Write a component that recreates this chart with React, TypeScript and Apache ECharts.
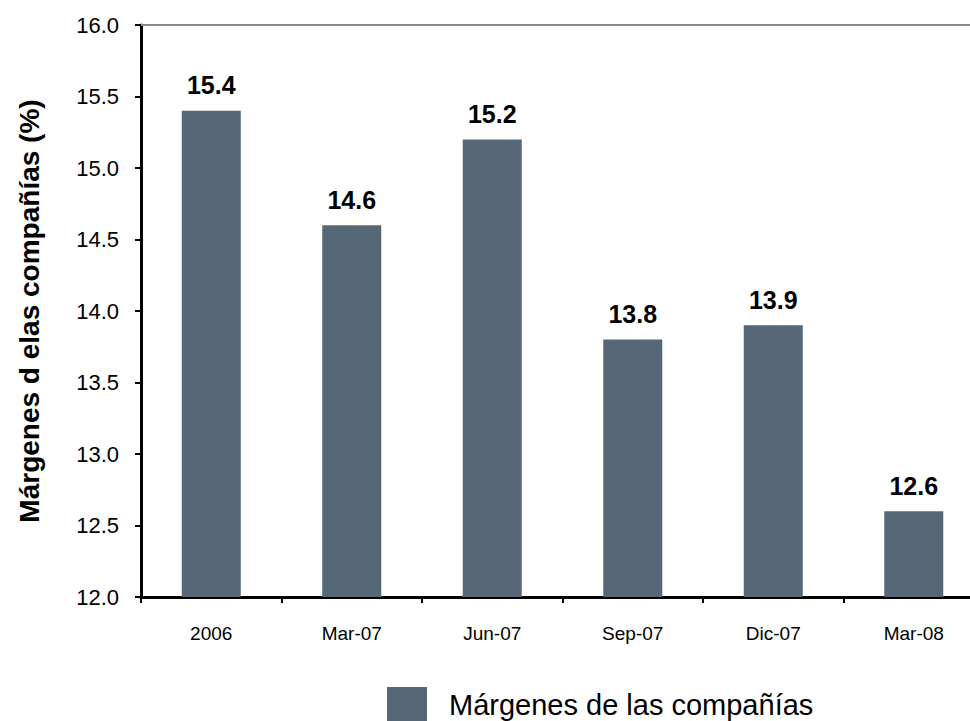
import React, { useEffect, useRef } from "react";
import * as echarts from "echarts";

const categories = ["2006", "Mar-07", "Jun-07", "Sep-07", "Dic-07", "Mar-08"];
const margins = [15.4, 14.6, 15.2, 13.8, 13.9, 12.6];
const seriesName = "Márgenes de las compañías";
const yTitle = "Márgenes d elas compañías (%)";

export default function App() {
  const ref = useRef<HTMLDivElement>(null);
  useEffect(() => {
    if (!ref.current) return;
    const chart = echarts.init(ref.current, null, { renderer: "svg" });
    const font = "'Liberation Sans', Arial, sans-serif";
    chart.setOption({
      animation: false,
      textStyle: { fontFamily: font },
      grid: { left: 141, right: 6, top: 25, bottom: 124, containLabel: false },
      legend: {
        data: [seriesName],
        left: 387,
        top: 685,
        padding: 0,
        itemWidth: 40,
        itemHeight: 35,
        itemGap: 10,
        icon: "rect",
        textStyle: {
          fontSize: 29,
          lineHeight: 29,
          color: "#000",
          fontFamily: font,
          padding: [0, 0, 10, 17],
        },
      },
      xAxis: [
        {
          type: "category",
          data: categories,
          position: "bottom",
          axisLine: { lineStyle: { color: "#000", width: 3 } },
          axisTick: { show: true, length: 6, lineStyle: { color: "#000", width: 2 } },
          axisLabel: { color: "#000", fontSize: 19, margin: 27, fontFamily: font },
          splitLine: { show: false },
        },
        {
          type: "category",
          data: categories,
          position: "top",
          axisLine: { lineStyle: { color: "#888", width: 2 } },
          axisTick: { show: false },
          axisLabel: { show: false },
        },
      ],
      yAxis: {
        type: "value",
        min: 12,
        max: 16,
        interval: 0.5,
        name: yTitle,
        nameLocation: "middle",
        nameGap: 98,
        nameTextStyle: { fontSize: 28, fontWeight: "bold", color: "#000", fontFamily: font },
        axisLine: { show: true, lineStyle: { color: "#000", width: 3 } },
        axisTick: { show: true, length: 6, lineStyle: { color: "#000", width: 2 } },
        axisLabel: {
          color: "#000",
          fontSize: 22,
          margin: 22,
          fontFamily: font,
          formatter: (v: number) => v.toFixed(1),
        },
        splitLine: { show: false },
      },
      series: [
        {
          name: seriesName,
          type: "bar",
          data: margins,
          barWidth: 59,
          itemStyle: { color: "#566878" },
          label: {
            show: true,
            position: "top",
            distance: 13,
            color: "#000",
            fontSize: 25,
            fontWeight: "bold",
            fontFamily: font,
            formatter: (p: any) => Number(p.value).toFixed(1),
          },
        },
      ],
    });
    return () => chart.dispose();
  }, []);
  return (
    <div style={{ position: "absolute", left: 0, top: 0, width: 970, height: 721, overflow: "hidden", background: "#fff" }}>
      <div ref={ref} style={{ width: 990, height: 721 }} />
    </div>
  );
}
